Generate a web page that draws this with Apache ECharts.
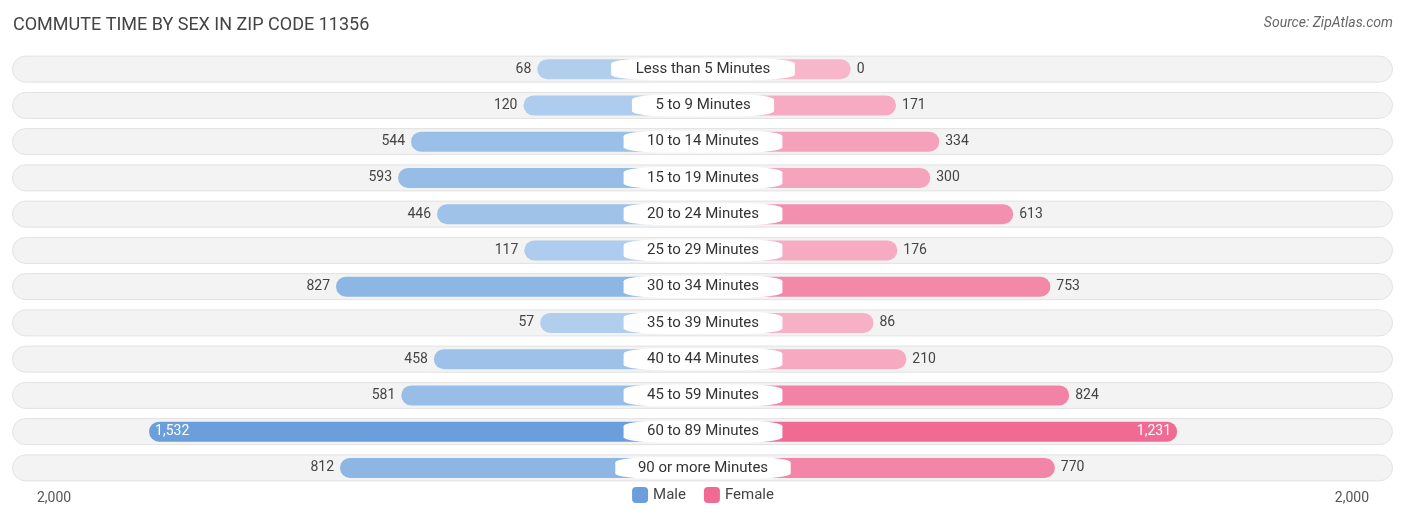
<!DOCTYPE html><html><head><meta charset="utf-8"><script src="https://cdn.jsdelivr.net/npm/echarts@6/dist/echarts.min.js"></script></head><body style="margin:0"><div id="c" style="width:1406px;height:523px"></div><script>
const categories=["Less than 5 Minutes","5 to 9 Minutes","10 to 14 Minutes","15 to 19 Minutes","20 to 24 Minutes","25 to 29 Minutes","30 to 34 Minutes","35 to 39 Minutes","40 to 44 Minutes","45 to 59 Minutes","60 to 89 Minutes","90 or more Minutes"];
const male=[68,120,544,593,446,117,827,57,458,581,1532,812];
const female=[0,171,334,300,613,176,753,86,210,824,1231,770];
const OFF=557, MAX=2000;
const fmt=v=>v.toLocaleString('en-US');
function mix(a,b,t){const p=s=>[1,3,5].map(i=>parseInt(s.substr(i,2),16));const A=p(a),B=p(b);return 'rgb('+A.map((x,i)=>Math.round(x+(B[i]-x)*t)).join(',')+')';}
const cats=categories.slice().reverse(), m=male.slice().reverse(), f=female.slice().reverse();
const chart=echarts.init(document.getElementById('c'));
chart.setOption({
 animation:false,
 title:{text:'COMMUTE TIME BY SEX IN ZIP CODE 11356',left:8,top:11,textStyle:{fontFamily:'Roboto',fontSize:18,fontWeight:'normal',color:'#444'}},
 graphic:[
  {type:'text',right:13,top:16,style:{text:'Source: ZipAtlas.com',font:'italic 14px Roboto',fill:'#666'}},
  {type:'text',left:37,top:491,style:{text:'2,000',font:'14px Roboto',fill:'#555'}},
  {type:'text',right:37,top:491,style:{text:'2,000',font:'14px Roboto',fill:'#555'}}
 ],
 legend:{bottom:15,left:'center',itemWidth:16,itemHeight:16,itemGap:18,textStyle:{fontFamily:'Roboto',fontSize:15,color:'#444'},data:['Male','Female']},
 grid:[{left:25,right:25,top:51,bottom:37},{left:12,right:13,top:51,bottom:37}],
 xAxis:[{type:'value',min:-(OFF+MAX),max:OFF+MAX,show:false},{type:'value',gridIndex:1,min:0,max:1,show:false}],
 yAxis:[{type:'category',data:cats,show:false},{type:'category',gridIndex:1,data:cats,show:false}],
 series:[
  {type:'bar',xAxisIndex:1,yAxisIndex:1,data:cats.map(()=>1),barWidth:27,silent:true,itemStyle:{color:'#f3f3f3',borderColor:'#e2e2e2',borderWidth:1,borderRadius:14}},
  {name:'Male',type:'bar',stack:'a',barWidth:20,color:'#6a9fdc',
   data:m.map(v=>({value:-(OFF+v),itemStyle:{color:mix('#b4d0ee','#6a9fdc',v/1532),borderRadius:10},
     label:{show:true,position:v>1200?'insideLeft':'left',color:v>1200?'#fff':'#444',formatter:fmt(v)}})),
   label:{fontFamily:'Roboto',fontSize:14,distance:6}},
  {name:'Female',type:'bar',stack:'a',barWidth:20,color:'#f06a94',
   data:f.map(v=>({value:OFF+v,itemStyle:{color:mix('#f8b6ca','#f06a94',v/1231),borderRadius:10},
     label:{show:true,position:v>1000?'insideRight':'right',color:v>1000?'#fff':'#444',formatter:fmt(v)}})),
   label:{fontFamily:'Roboto',fontSize:14,distance:6}},
  {type:'scatter',data:cats.map(c=>[0,c]),z:5,silent:true,
   symbol:'roundRect',symbolSize:(v)=>[v[1].length*8.3+26,22],itemStyle:{color:'#fff',opacity:1},
   label:{show:true,position:'inside',formatter:p=>p.value[1],fontFamily:'Roboto',fontSize:15,color:'#333'}}
 ]
});
</script></body></html>
